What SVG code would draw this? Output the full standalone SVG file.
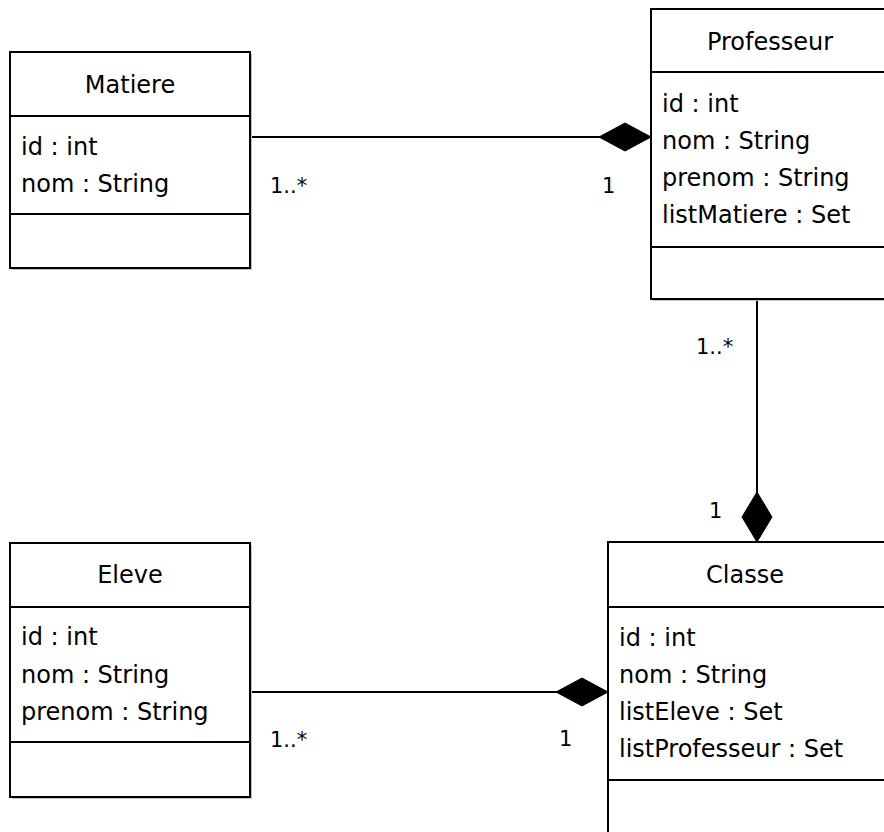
<svg xmlns="http://www.w3.org/2000/svg" width="884" height="832" viewBox="0 0 884 832">
<style>
.box{fill:#ffffff;stroke:#000000;stroke-width:2}
.shadow{fill:#c4c4c4;stroke:none}
.sep{stroke:#000000;stroke-width:2;fill:none}
.t{font-family:"DejaVu Sans",sans-serif;font-size:24px;fill:#000000}
.title{text-anchor:middle}
.lbl{font-family:"DejaVu Sans",sans-serif;font-size:21px;fill:#000000}
.conn{stroke:#000000;stroke-width:2;fill:none}
.dia{fill:#000000;stroke:#000000;stroke-width:1}
</style>
<rect width="884" height="832" fill="#ffffff"/>
<g id="connectors">
  <line class="conn" x1="250" y1="137" x2="600" y2="137"/>
  <polygon class="dia" points="599,137 625,123 651,137 625,151"/>
  <text class="lbl" x="270" y="193">1..*</text>
  <text class="lbl" x="602" y="193">1</text>
  <line class="conn" x1="757" y1="299" x2="757" y2="494"/>
  <polygon class="dia" points="757,492 772,517 757,542 742,517"/>
  <text class="lbl" x="696" y="354">1..*</text>
  <text class="lbl" x="709" y="518">1</text>
  <line class="conn" x1="250" y1="692" x2="558" y2="692"/>
  <polygon class="dia" points="556,692 582,678 608,692 582,706"/>
  <text class="lbl" x="270" y="747">1..*</text>
  <text class="lbl" x="559" y="746">1</text>
</g>
<g id="Matiere">
  <rect class="shadow" x="12" y="54" width="240" height="216"/>
  <rect class="box" x="10" y="52" width="240" height="216"/>
  <line class="sep" x1="10" y1="116" x2="250" y2="116"/>
  <line class="sep" x1="10" y1="214" x2="250" y2="214"/>
  <text class="t title" x="130" y="93">Matiere</text>
  <text class="t" x="21" y="155">id : int</text>
  <text class="t" x="21" y="192">nom : String</text>
</g>
<g id="Professeur">
  <rect class="shadow" x="653" y="11" width="240" height="290"/>
  <rect class="box" x="651" y="9" width="240" height="290"/>
  <line class="sep" x1="651" y1="72" x2="891" y2="72"/>
  <line class="sep" x1="651" y1="247" x2="891" y2="247"/>
  <text class="t title" x="770" y="50">Professeur</text>
  <text class="t" x="662" y="112">id : int</text>
  <text class="t" x="662" y="149">nom : String</text>
  <text class="t" x="662" y="186">prenom : String</text>
  <text class="t" x="662" y="223">listMatiere : Set</text>
</g>
<g id="Eleve">
  <rect class="shadow" x="12" y="545" width="240" height="254"/>
  <rect class="box" x="10" y="543" width="240" height="254"/>
  <line class="sep" x1="10" y1="607" x2="250" y2="607"/>
  <line class="sep" x1="10" y1="742" x2="250" y2="742"/>
  <text class="t title" x="130" y="583">Eleve</text>
  <text class="t" x="21" y="645">id : int</text>
  <text class="t" x="21" y="683">nom : String</text>
  <text class="t" x="21" y="720">prenom : String</text>
</g>
<g id="Classe">
  <rect class="shadow" x="610" y="544" width="280" height="300"/>
  <rect class="box" x="608" y="542" width="280" height="300"/>
  <line class="sep" x1="608" y1="607" x2="888" y2="607"/>
  <line class="sep" x1="608" y1="780" x2="888" y2="780"/>
  <text class="t title" x="745" y="583">Classe</text>
  <text class="t" x="619" y="646">id : int</text>
  <text class="t" x="619" y="683">nom : String</text>
  <text class="t" x="619" y="720">listEleve : Set</text>
  <text class="t" x="619" y="757">listProfesseur : Set</text>
</g>
</svg>
